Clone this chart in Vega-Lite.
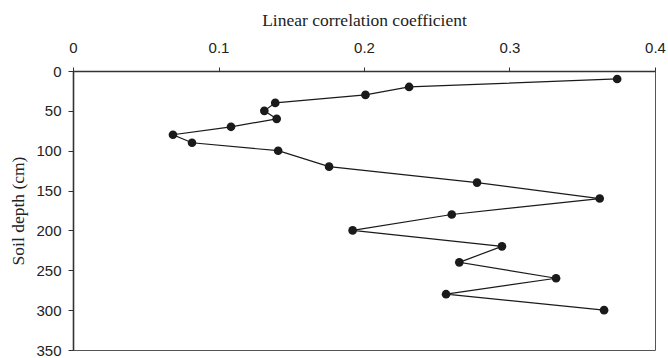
{
  "$schema": "https://vega.github.io/schema/vega-lite/v6.json",
  "width": 582,
  "height": 279,
  "autosize": {"type": "none"},
  "padding": {"left": 73, "top": 71, "right": 13, "bottom": 8},
  "background": "white",
  "config": {
    "view": {"stroke": "#555", "strokeWidth": 1},
    "axis": {"grid": false}
  },
  "data": {
    "values": [
      {"depth": 10, "r": 0.374},
      {"depth": 20, "r": 0.231},
      {"depth": 30, "r": 0.201},
      {"depth": 40, "r": 0.139},
      {"depth": 50, "r": 0.1315},
      {"depth": 60, "r": 0.140},
      {"depth": 70, "r": 0.1086},
      {"depth": 80, "r": 0.0687},
      {"depth": 90, "r": 0.0818},
      {"depth": 100, "r": 0.141},
      {"depth": 120, "r": 0.176},
      {"depth": 140, "r": 0.2777},
      {"depth": 160, "r": 0.362},
      {"depth": 180, "r": 0.2603},
      {"depth": 200, "r": 0.1922},
      {"depth": 220, "r": 0.2948},
      {"depth": 240, "r": 0.2655},
      {"depth": 260, "r": 0.332},
      {"depth": 280, "r": 0.2564},
      {"depth": 300, "r": 0.365}
    ]
  },
  "encoding": {
    "x": {
      "field": "r",
      "type": "quantitative",
      "scale": {"domain": [0, 0.4], "nice": false, "zero": false},
      "axis": {
        "orient": "top",
        "title": "Linear correlation coefficient",
        "titleFont": "Liberation Serif",
        "titleFontSize": 17.5,
        "titleFontWeight": "normal",
        "titleColor": "#222",
        "titlePadding": 11,
        "values": [0, 0.1, 0.2, 0.3, 0.4],
        "format": "~g",
        "labelFont": "Liberation Sans",
        "labelFontSize": 15,
        "labelColor": "#222",
        "labelFlush": false,
        "labelPadding": 12,
        "tickSize": 4,
        "tickColor": "#333",
        "domainColor": "#333",
        "domainWidth": 1.6
      }
    },
    "y": {
      "field": "depth",
      "type": "quantitative",
      "scale": {"domain": [0, 350], "reverse": true, "nice": false},
      "axis": {
        "title": "Soil depth (cm)",
        "titleFont": "Liberation Serif",
        "titleFontSize": 17.5,
        "titleFontWeight": "normal",
        "titleColor": "#222",
        "titlePadding": 8,
        "values": [0, 50, 100, 150, 200, 250, 300, 350],
        "labelFont": "Liberation Sans",
        "labelFontSize": 15,
        "labelColor": "#222",
        "labelFlush": false,
        "labelPadding": 7,
        "tickSize": 5,
        "tickColor": "#333",
        "domainColor": "#333",
        "domainWidth": 1.6
      }
    }
  },
  "layer": [
    {
      "mark": {"type": "line", "color": "#1a1a1a", "strokeWidth": 1.2},
      "encoding": {"order": {"field": "depth", "type": "quantitative"}}
    },
    {
      "mark": {"type": "point", "filled": true, "color": "#1a1a1a", "opacity": 1, "size": 75}
    }
  ]
}
